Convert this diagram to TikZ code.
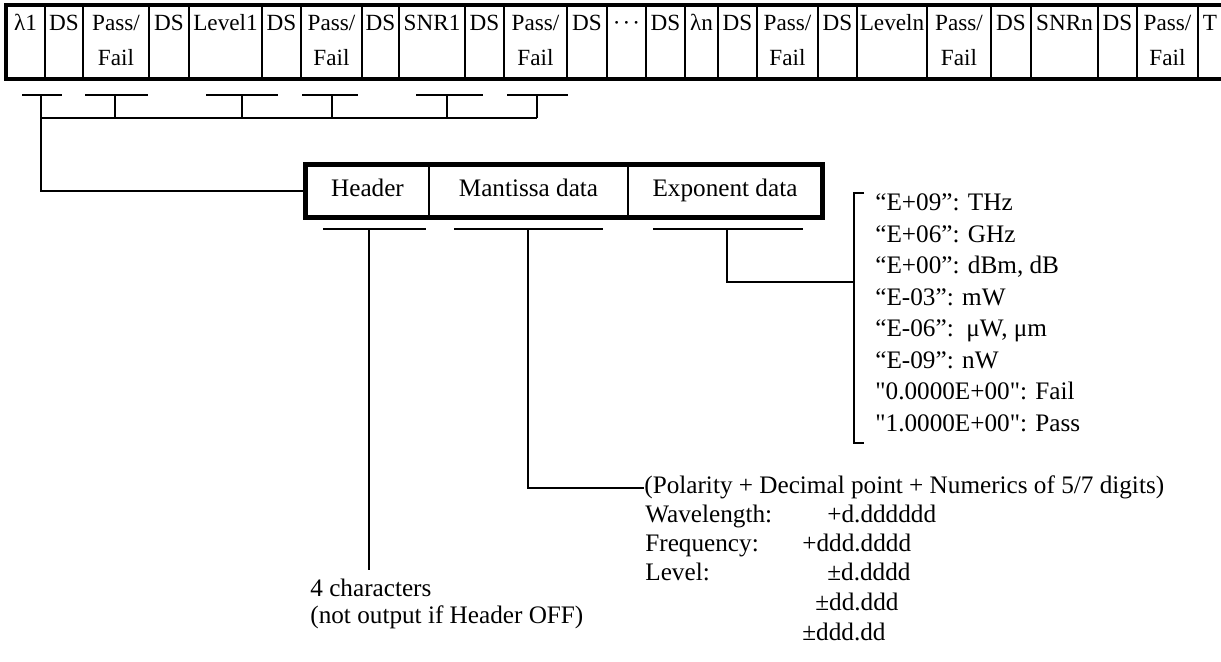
\documentclass[tikz,border=0pt]{standalone}
\usepackage{fontspec}
\setmainfont{Liberation Serif}
\usetikzlibrary{calc}
\begin{document}
\begin{tikzpicture}[x=0.5pt,y=-0.5pt,
  txt/.style={font=\fontsize{12.6}{15}\selectfont, inner sep=0pt, text height=8.8pt, text depth=3pt},
  rec/.style={font=\fontsize{11.6}{14}\selectfont, inner sep=0pt, text height=8.2pt, text depth=2.8pt},
  thinln/.style={line width=0.7pt},
  thickln/.style={line width=2.4pt},
  box/.style={txt, draw, thinln, minimum height=26pt}]
\useasboundingbox (0,0) rectangle (1221,661);

% ---------- top record ----------
\foreach \a/\b/\s [count=\i] in {
 6/45/λ1, 45/83/DS, 83/149/Pass\slash, 149/189/DS, 189/262/Level1, 262/301/DS,
 301/362/Pass\slash, 362/399/DS, 399/465/SNR1, 465/504/DS, 504/567/Pass\slash,
 567/607/DS, 607/646/{·\kern1pt·\kern1pt·}, 646/685/DS, 685/718/λn, 718/757/DS,
 757/818/Pass\slash, 818/857/DS, 857/927/Leveln, 927/991/Pass\slash, 991/1031/DS,
 1031/1098/SNRn, 1098/1137/DS, 1137/1198/Pass\slash, 1198/1222/T}
{
  \node[rec] (c\i) at ({(\a+\b)/2},25) {\s};
  \draw[thinln] (\b,5) -- (\b,79);
}
\foreach \a/\b [count=\i] in {83/149, 301/362, 504/567, 757/818, 927/991, 1137/1198}
{
  \node[rec] (f\i) at ({(\a+\b)/2},60) {Fail};
}
\draw[thickln] (1221,5) -- (6,5) -- (6,79) -- (1221,79);

% ---------- header / mantissa / exponent ----------
\node[box, minimum width=61.5pt] (hdr) at (367.5,191) {Header};
\node[box, minimum width=99.5pt] (man) at (528.5,191) {Mantissa data};
\node[box, minimum width=97pt]   (exd) at (725,191)   {Exponent data};
\draw[thickln] (hdr.north west) rectangle (exd.south east);

% ---------- markers under the record ----------
\foreach \l/\m/\r [count=\i] in {22/41/62, 85/115/148, 206/242/278, 302/332/358, 416/447/483, 507/537/568}
{
  \coordinate (m\i) at (\m,95);
  \coordinate (j\i) at (\m,118);
  \draw[thinln] (\l,95) -- (\r,95);
  \draw[thinln] (m\i) -- (j\i);
}
\draw[thinln] (j1) -- (j6);
\draw[thinln] (m1) |- (hdr.west);

% ---------- markers under the data box ----------
\foreach \l/\m/\r/\n in {323/369/426/hm, 454/528/603/mm, 653/727/803/em}
{
  \coordinate (\n) at (\m,229);
  \draw[thinln] (\l,229) -- (\r,229);
}

% header note
\coordinate (hend) at (369,570);
\draw[thinln] (hm) -- (hend);
\node[txt, anchor=west] (ch1) at (310,591) {4 characters};
\node[txt, anchor=west] (ch2) at (310,618) {(not output if Header OFF)};

% mantissa note
\node[txt, anchor=west] (pol) at (644,488) {(Polarity + Decimal point + Numerics of 5/7 digits)};
\draw[thinln] (mm) |- (pol.west);
\node[txt, anchor=west] (wl)  at (645,517) {Wavelength:};
\node[txt, anchor=west] (wlv) at (827,517) {+d.dddddd};
\node[txt, anchor=west] (fr)  at (645,546) {Frequency:};
\node[txt, anchor=west] (frv) at (802,546) {+ddd.dddd};
\node[txt, anchor=west] (lv)  at (645,575) {Level:};
\node[txt, anchor=west] (lv1) at (827,575) {±d.dddd};
\node[txt, anchor=west] (lv2) at (815,605) {±dd.ddd};
\node[txt, anchor=west] (lv3) at (802,635) {±ddd.dd};

% exponent note
\coordinate (bt) at (854,193);
\coordinate (bb) at (854,443);
\coordinate (ej) at (854,282);
\draw[thinln] ($(bt)+(10,0)$) -- (bt) -- (bb) -- ($(bb)+(10,0)$);
\draw[thinln] (em) |- (ej);
\foreach \s [count=\i] in {{“E+09”: THz}, {“E+06”: GHz}, {“E+00”: dBm, dB}, {“E-03”: mW},
  {“E-06”:\ \ μW, μm}, {“E-09”: nW}, {\textquotedbl 0.0000E+00\textquotedbl: Fail},
  {\textquotedbl 1.0000E+00\textquotedbl: Pass}}
{
  \node[txt, anchor=west] (e\i) at (875,{205+31.5*(\i-1)}) {\s};
}
\end{tikzpicture}
\end{document}
